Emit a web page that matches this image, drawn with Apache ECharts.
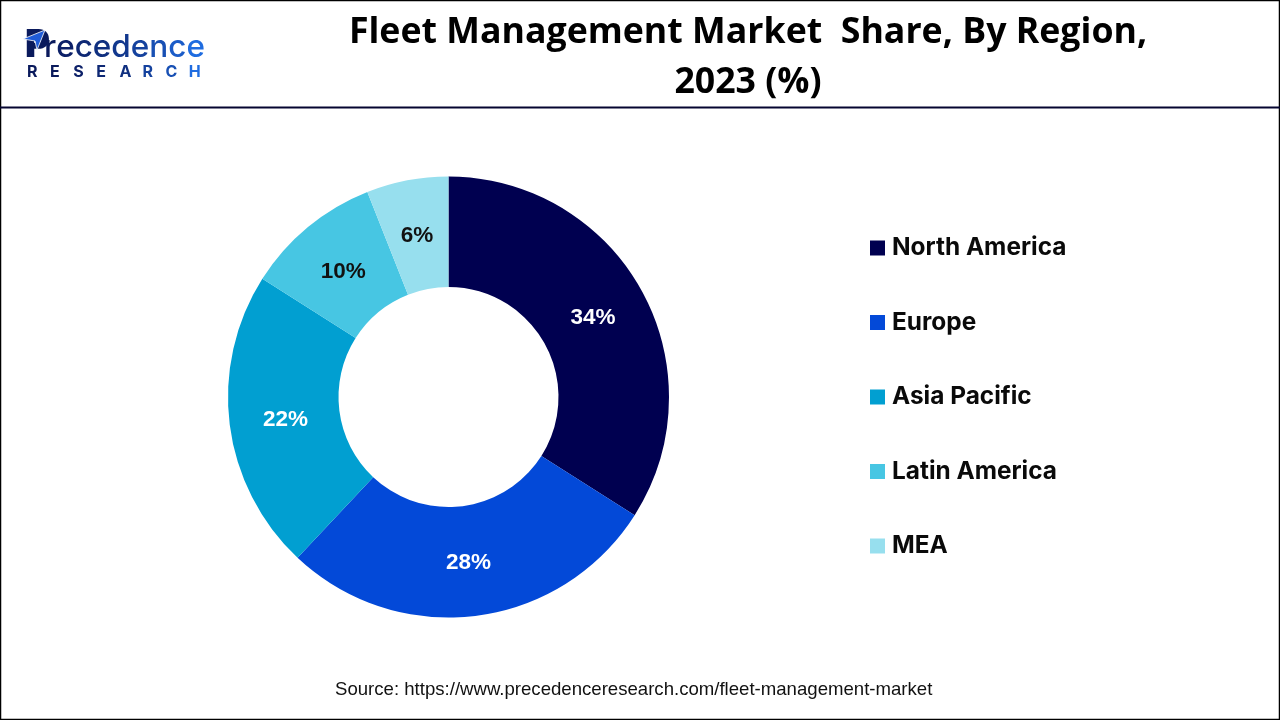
<!DOCTYPE html>
<html>
<head>
<meta charset="utf-8">
<title>Fleet Management Market Share, By Region, 2023 (%)</title>
<script src="https://cdn.jsdelivr.net/npm/echarts@6/dist/echarts.min.js"></script>
<style>
  html, body { margin: 0; padding: 0; background: #fff; }
  #chart { width: 1280px; height: 720px; }
</style>
</head>
<body>
<div id="chart"></div>
<script>
'use strict';

const regions = ['North America', 'Europe', 'Asia Pacific', 'Latin America', 'MEA'];
const shares = [34, 28, 22, 10, 6];
const colors = ['#000050', '#0349d8', '#019fd1', '#47c6e3', '#97dfee'];
const labelColors = ['#fff', '#fff', '#fff', '#111', '#111'];
// small label nudges so they sit where the reference has them
const labelNudge = [[-3, 2], [-1, -1], [4, 2], [2, 4], [0, 4]];

const logoWord = 'recedence'.split('');
const logoWordColors = ['#0a1a5c', '#0c2068', '#0e2874', '#103080', '#12388e', '#15429e', '#1850b4', '#1b5cc8', '#1f6ce0'];
const logoSub = 'RESEARCH'.split('');
const logoSubColors = ['#0a1a5c', '#0a1a5c', '#0c2068', '#0e2874', '#103080', '#15429e', '#1850b4', '#1f6ce0'];

const logoRich = {};
logoWord.forEach((ch, i) => {
  logoRich['c' + i] = { fill: logoWordColors[i], fontFamily: 'Inter', fontSize: 31.5, fontWeight: 500 };
});

const chart = echarts.init(document.getElementById('chart'));

chart.setOption({
  animation: false,
  backgroundColor: '#fff',
  title: {
    text: 'Fleet Management Market  Share, By Region,\n2023 (%)',
    left: 743,
    top: 3,
    textAlign: 'center',
    textStyle: {
      fontFamily: 'Open Sans',
      fontSize: 35.7,
      fontWeight: 'bold',
      color: '#000',
      lineHeight: 50,
    },
  },
  legend: {
    orient: 'vertical',
    left: 865,
    top: 228,
    icon: 'rect',
    itemWidth: 15,
    itemHeight: 15,
    itemGap: 44.5,
    selectedMode: false,
    data: regions,
    textStyle: {
      fontFamily: 'Inter',
      fontSize: 24.4,
      fontWeight: 'bold',
      color: '#0a0a0a',
      padding: [0, 0, 0, 2],
      lineHeight: 30,
    },
  },
  series: [{
    type: 'pie',
    center: [448.5, 397],
    radius: [110, 220.5],
    startAngle: 90,
    clockwise: true,
    label: {
      show: true,
      position: 'inside',
      formatter: '{c}%',
      fontFamily: 'Liberation Sans',
      fontSize: 22.5,
      fontWeight: 'bold',
    },
    labelLine: { show: false },
    labelLayout: (p) => ({ dx: labelNudge[p.dataIndex][0], dy: labelNudge[p.dataIndex][1] }),
    emphasis: { disabled: true },
    data: regions.map((name, i) => ({
      name,
      value: shares[i],
      itemStyle: { color: colors[i] },
      label: { color: labelColors[i] },
    })),
  }],
  graphic: [
    // outer frame and header rule
    { type: 'rect', silent: true, shape: { x: 0.5, y: 0.5, width: 1279, height: 719 },
      style: { fill: 'none', stroke: '#000', lineWidth: 1.5 } },
    { type: 'rect', silent: true, shape: { x: 0, y: 106.5, width: 1280, height: 2 },
      style: { fill: '#050530' } },
    // logo: P with the little plane, then the wordmark
    { type: 'text', silent: true, left: 25, top: 27,
      style: { text: 'P', fontFamily: 'Inter', fontSize: 38, fontWeight: 900, fill: '#0a1a5c' } },
    { type: 'polygon', silent: true,
      shape: { points: [[23, 39], [45, 30], [37, 50], [35, 41]] },
      style: { fill: '#1f5bd8', stroke: '#fff', lineWidth: 0.8 } },
    { type: 'text', silent: true, left: 44, top: 32,
      style: {
        text: logoWord.map((ch, i) => '{c' + i + '|' + ch + '}').join(''),
        rich: logoRich,
      } },
    ...logoSub.map((ch, i) => ({
      type: 'text', silent: true, left: 27 + i * 23.1, top: 64,
      style: { text: ch, fontFamily: 'Inter', fontSize: 16, fontWeight: 'bold', fill: logoSubColors[i] },
    })),
    // source line
    { type: 'text', silent: true, left: 335, top: 680,
      style: {
        text: 'Source: https://www.precedenceresearch.com/fleet-management-market',
        fontFamily: 'Liberation Sans', fontSize: 18.6, fill: '#111',
      } },
  ],
});

window.addEventListener('resize', () => chart.resize());
</script>
</body>
</html>
